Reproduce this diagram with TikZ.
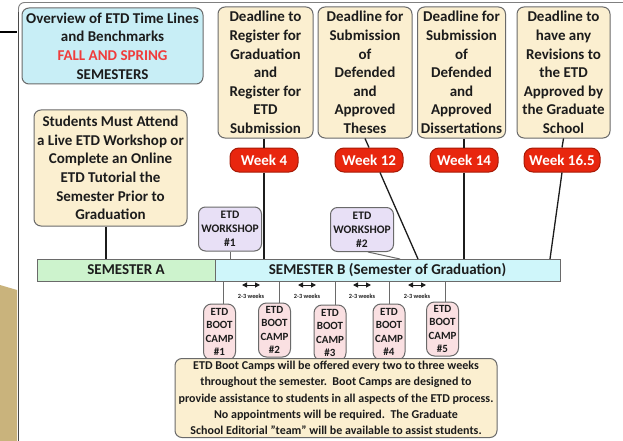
\documentclass[tikz,border=0pt]{standalone}
\usepackage{fontspec}
\setmainfont{Carlito}
\usetikzlibrary{arrows.meta,calc}

\definecolor{ink}{HTML}{1C1C1C}
\definecolor{edge}{HTML}{6A6A6A}
\definecolor{skyfill}{HTML}{C8EEF6}
\definecolor{tanfill}{HTML}{FBEFD0}
\definecolor{weekred}{HTML}{E8260E}
\definecolor{weekedge}{HTML}{A81A06}
\definecolor{semAfill}{HTML}{CDF3CD}
\definecolor{semBfill}{HTML}{CFF6FA}
\definecolor{lilac}{HTML}{E8E0F6}
\definecolor{blush}{HTML}{FAE0E2}
\definecolor{alert}{HTML}{F03C3C}
\definecolor{sand}{HTML}{C9B37C}
\definecolor{rim}{HTML}{4A4A4A}
\definecolor{rimlight}{HTML}{808080}

\tikzset{
  box/.style={draw=edge, line width=1pt, rounded corners=7pt, inner sep=0pt,
    align=center, text=ink},
  big/.style={font=\fontsize{15}{18.6}\selectfont\bfseries},
  deadline/.style={box, big, fill=tanfill, minimum height=131pt},
  week/.style={box, draw=weekedge, fill=weekred, text=white, rounded corners=9pt,
    minimum height=24pt, font=\fontsize{15}{18}\selectfont\bfseries},
  semester/.style={draw=edge, line width=1pt, inner sep=0pt, minimum height=22pt,
    text=ink, font=\fontsize{15}{18}\selectfont\bfseries},
  workshop/.style={box, fill=lilac, minimum width=63pt, minimum height=44pt,
    font=\fontsize{11.5}{14}\selectfont\bfseries},
  bootcamp/.style={box, fill=blush, rounded corners=8pt, minimum width=32pt,
    font=\fontsize{11}{13.6}\selectfont\bfseries},
  link/.style={draw=ink, line width=1.3pt},
  gap/.style={draw=ink, line width=1pt,
    {Triangle[length=5pt,width=5pt]}-{Triangle[length=5pt,width=5pt]}},
  gaplabel/.style={text=ink, font=\fontsize{6.3}{7}\selectfont\bfseries, inner sep=0pt},
}

\begin{document}
\begin{tikzpicture}[x=1pt,y=-1pt]
  % canvas
  \fill[white] (0,0) rectangle (623,441);
  \useasboundingbox (0,0) rectangle (623,441);

  % slide backdrop: sand band, rule and frame
  \fill[sand] (0,285) -- (17,290) -- (17,441) -- (0,441) -- cycle;
  \draw[black, line width=2pt] (0,32) -- (17,32);
  \draw[rimlight, line width=0.9pt, rounded corners=6pt] (18.5,20) -- (18.5,2.5) -- (623,2.5);
  \draw[rim, line width=1.5pt] (18.5,441) -- (18.5,12);

  % title box
  \node[box, big, fill=skyfill, minimum width=181pt, minimum height=76pt] (ov) at (112.5,46)
    {Overview of ETD Time Lines\\and Benchmarks\\\textcolor{alert}{FALL AND SPRING}\\SEMESTERS};

  % deadlines
  \node[deadline, minimum width=95pt] (d1) at (265.5,72.5)
    {Deadline to\\Register for\\Graduation\\and\\Register for\\ETD\\Submission};
  \node[deadline, minimum width=94pt] (d2) at (365,72.5)
    {Deadline for\\Submission\\of\\Defended\\and\\Approved\\Theses};
  \node[deadline, minimum width=88pt] (d3) at (461.5,72.5)
    {Deadline for\\Submission\\of\\Defended\\and\\Approved\\Dissertations};
  \node[deadline, minimum width=93pt] (d4) at (563.5,72.5)
    {Deadline to\\have any\\Revisions to\\the ETD\\Approved by\\the Graduate\\School};

  % week markers
  \node[week, minimum width=68pt] (w4)  at (264,160) {Week 4};
  \node[week, minimum width=68pt] (w12) at (369,160) {Week 12};
  \node[week, minimum width=68pt] (w14) at (464,160) {Week 14};
  \node[week, minimum width=76pt] (w16) at (562,160) {Week 16.5};

  % prerequisite
  \node[box, big, fill=tanfill, minimum width=153pt, minimum height=116pt] (st) at (110.5,168)
    {Students Must Attend\\a Live ETD Workshop or\\Complete an Online\\ETD Tutorial the\\Semester Prior to\\Graduation};

  % semester bar
  \node[semester, fill=semAfill, minimum width=178pt] (semA) at (126,270) {SEMESTER A};
  \node[semester, fill=semBfill, minimum width=345pt] (semB) at (387.5,270)
    {SEMESTER B (Semester of Graduation)};

  % workshops
  \node[workshop] (ws1) at (230,229) {ETD\\WORKSHOP\\\#1};
  \node[workshop] (ws2) at (362,229.5) {ETD\\WORKSHOP\\\#2};

  % connectors above the bar
  \coordinate (stx) at (106,0);
  \draw[link] (stx |- st.south) -- (stx |- semA.north);
  \draw[link] (w4 |- d1.south) -- (w4.north);
  \draw[link] (w4.south) -- (w4 |- semB.north);
  \draw[link] (d2.south) -- (w12.north);
  \coordinate (b12) at (418,259);
  \draw[link] ($(w12.south)+(11,0)$) -- (b12);
  \draw[link] (w14 |- d3.south) -- (w14.north);
  \draw[link] (w14.south) -- (w14 |- semB.north);
  \draw[link] (d4.south) -- (w16.north);
  \coordinate (b16) at (550,259);
  \draw[link] (w16.south) -- (b16);
  \draw[link, line width=1pt, draw=edge] (ws1.south) -- (ws1 |- semB.north);
  \coordinate (bws2) at (400,259);
  \draw[link, line width=1pt, draw=edge] ($(ws2.south)+(6,0)$) -- (bws2);

  % boot camps (partly tucked under the note below)
  \node[bootcamp, minimum height=56pt] (bc1) at (219.5,332) {ETD\\BOOT\\CAMP\\\#1};
  \node[bootcamp, minimum height=54pt] (bc2) at (274.5,330) {ETD\\BOOT\\CAMP\\\#2};
  \node[bootcamp, minimum height=56pt] (bc3) at (330,333) {ETD\\BOOT\\CAMP\\\#3};
  \node[bootcamp, minimum height=56pt] (bc4) at (389,332) {ETD\\BOOT\\CAMP\\\#4};
  \node[bootcamp, minimum height=54pt] (bc5) at (442.5,329) {ETD\\BOOT\\CAMP\\\#5};

  % drops from the bar to the boot camps
  \foreach \i/\x in {1/223, 2/279, 3/335, 4/389, 5/445} {
    \coordinate (t\i) at (\x,0);
    \draw[link, line width=1pt, draw=edge] (t\i |- semB.south) -- (t\i |- bc\i.north);
  }

  % spacing between boot camps
  \foreach \i/\x in {1/251, 2/307, 3/362, 4/417} {
    \node[gaplabel] (gl\i) at (\x,296) {2-3 weeks};
    \draw[gap] ($(gl\i)+(-9,-11)$) -- ($(gl\i)+(9,-11)$);
  }

  % note on boot camps
  \node[box, fill=tanfill, minimum width=322pt, minimum height=79pt,
    font=\fontsize{12}{16.2}\selectfont\bfseries] (note) at (336,398)
    {ETD Boot Camps will be offered every two to three weeks\\
     throughout the semester.\ \ Boot Camps are designed to\\
     provide assistance to students in all aspects of the ETD process.\\
     No appointments will be required.\ \ The Graduate\\
     School Editorial "team" will be available to assist students.};
\end{tikzpicture}
\end{document}
